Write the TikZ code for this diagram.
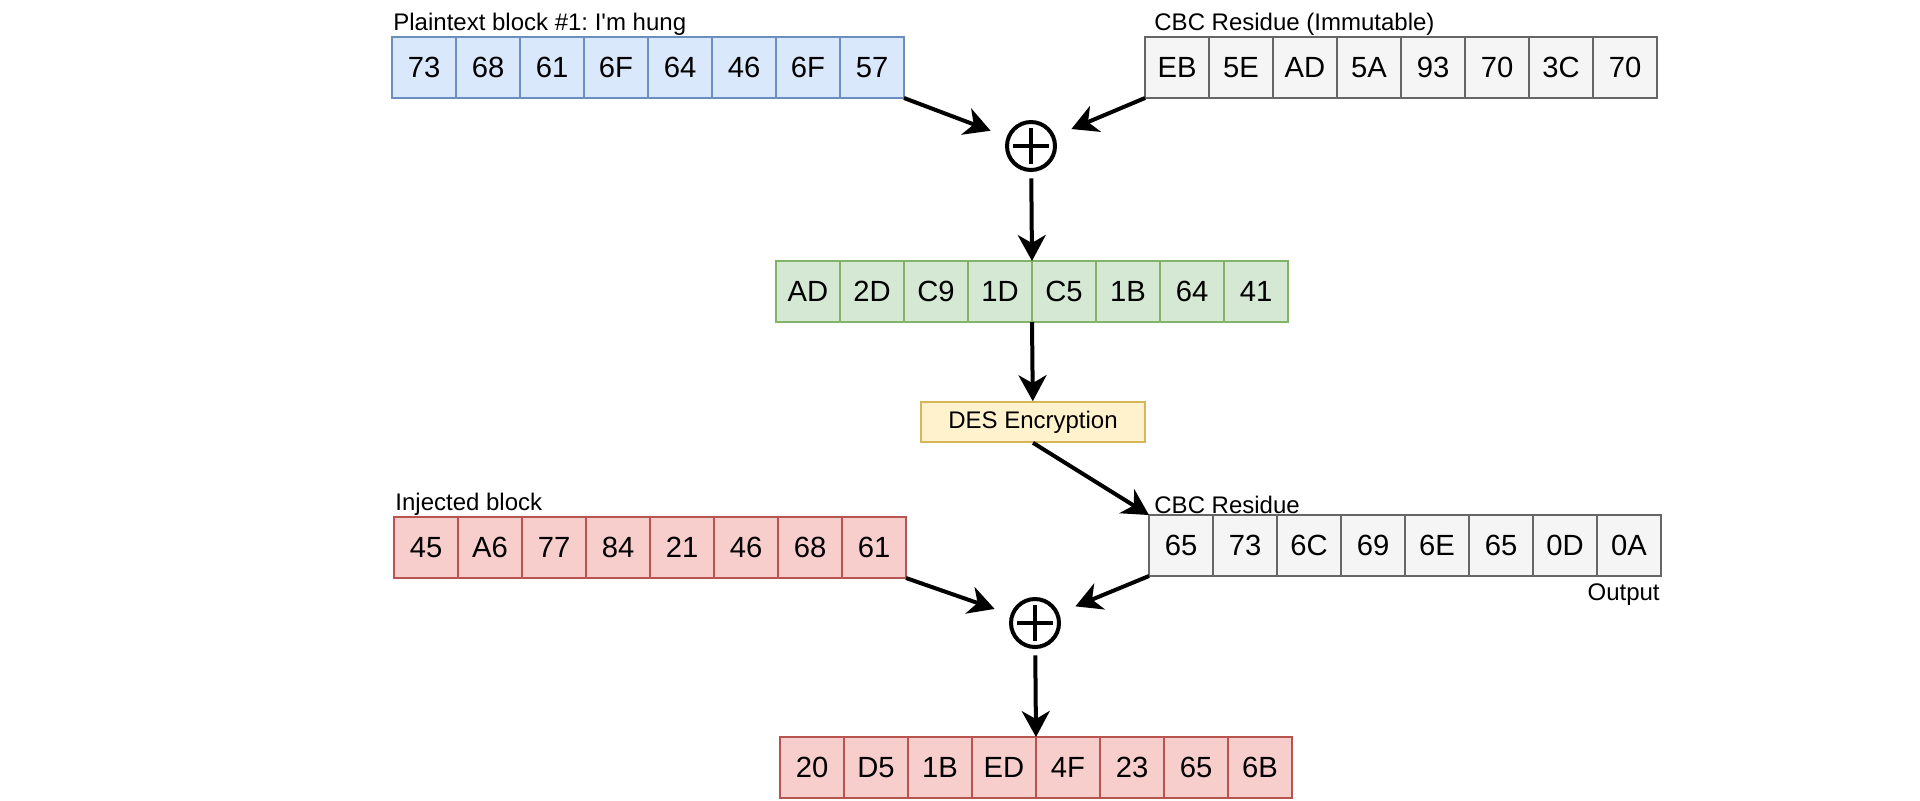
\documentclass[tikz,border=0pt]{standalone}
\usepackage{fontspec}
\setmainfont{Liberation Sans}
\frenchspacing
\usetikzlibrary{arrows.meta, positioning}
\definecolor{ptfill}{HTML}{DAE8FC}\definecolor{ptline}{HTML}{6C8EBF}
\definecolor{resfill}{HTML}{F5F5F5}\definecolor{resline}{HTML}{666666}
\definecolor{grnfill}{HTML}{D5E8D4}\definecolor{grnline}{HTML}{82B366}
\definecolor{redfill}{HTML}{F8CECC}\definecolor{redline}{HTML}{B85450}
\definecolor{desfill}{HTML}{FFF2CC}\definecolor{desline}{HTML}{D6B656}

\begin{document}
\begin{tikzpicture}[x=0.5pt, y=-0.5pt, >={Stealth[length=13pt,width=14pt,inset=4pt]},
  cell/.style={draw, line width=0.8pt, minimum width=32pt, minimum height=30.5pt,
    inner sep=0pt, outer sep=0pt, font=\fontsize{14.6}{17}\selectfont},
  ptcell/.style={cell, fill=ptfill, draw=ptline},
  rescell/.style={cell, fill=resfill, draw=resline},
  grncell/.style={cell, fill=grnfill, draw=grnline},
  redcell/.style={cell, fill=redfill, draw=redline},
  lbl/.style={font=\fontsize{12}{14}\selectfont, inner sep=0.5pt},
  xor/.style={fill=white, minimum width=40pt, minimum height=32pt, inner sep=0pt,
    path picture={
      \draw[line width=2pt] (path picture bounding box.center) circle[radius=12pt];
      \draw[line width=2pt] ([xshift=-9pt]path picture bounding box.center) -- ([xshift=9pt]path picture bounding box.center)
        ([yshift=-9pt]path picture bounding box.center) -- ([yshift=9pt]path picture bounding box.center);}},
  flow/.style={->, line width=2pt}]
  \useasboundingbox (0,0) rectangle (1920,800);
  % Blocks
  \foreach \v [count=\i] in {73,68,61,6F,64,46,6F,57}
    {\node[ptcell] (pt\i) at ({360+64*\i}, 67.5) {\v};}
  \foreach \v [count=\i] in {EB,5E,AD,5A,93,70,3C,70}
    {\node[rescell] (iv\i) at ({1113+64*\i}, 67.5) {\v};}
  \foreach \v [count=\i] in {AD,2D,C9,1D,C5,1B,64,41}
    {\node[grncell] (mx\i) at ({744+64*\i}, 291.5) {\v};}
  \foreach \v [count=\i] in {45,A6,77,84,21,46,68,61}
    {\node[redcell] (inj\i) at ({362+64*\i}, 547.5) {\v};}
  \foreach \v [count=\i] in {65,73,6C,69,6E,65,0D,0A}
    {\node[rescell] (res\i) at ({1117+64*\i}, 545.5) {\v};}
  \foreach \v [count=\i] in {20,D5,1B,ED,4F,23,65,6B}
    {\node[redcell] (out\i) at ({748+64*\i}, 767.5) {\v};}
  % Labels
  \node[lbl, above right=0pt and 0pt of pt1.north west] (ptlbl) {Plaintext block \#1: I\textquotesingle m hung};
  \node[lbl, above right=0pt and 4pt of iv1.north west] (ivlbl) {CBC Residue (Immutable)};
  \node[lbl, above right=0pt and 0pt of inj1.north west] (injlbl) {Injected block};
  \node[lbl, above right=0pt and 2pt of res1.north west] (reslbl) {CBC Residue};
  \node[lbl, below left=3pt and 0pt of res8.south east] (outlbl) {Output};
  % XOR and DES
  \node[xor] (xor1) at (1031,146) {};
  \node[xor] (xor2) at (1035,623) {};
  \node[draw=desline, fill=desfill, line width=0.8pt, minimum width=112pt, minimum height=20pt,
    inner sep=0pt, font=\fontsize{12}{14}\selectfont] (des) at (1033,422) {DES Encryption};
  % Edges
  \draw[flow] (pt8.south east) -- (xor1);
  \draw[flow] (iv1.south west) -- (xor1);
  \draw[flow] (xor1) -- (mx4.north east);
  \draw[flow] (mx4.south east) -- (des);
  \draw[flow] (des.south) -- (res1.north west);
  \draw[flow] (inj8.south east) -- (xor2);
  \draw[flow] (res1.south west) -- (xor2);
  \draw[flow] (xor2) -- (out4.north east);
\end{tikzpicture}
\end{document}
